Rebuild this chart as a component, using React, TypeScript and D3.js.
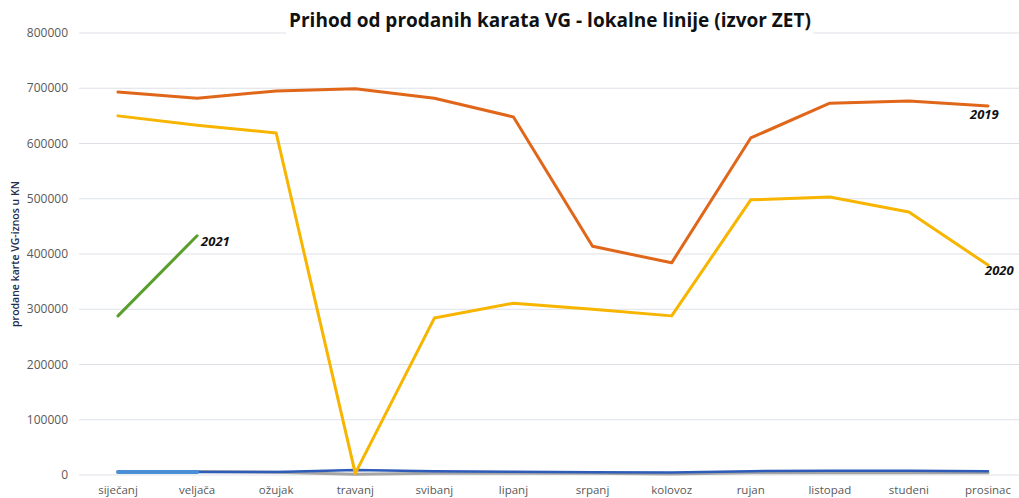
import React, { useEffect, useRef } from 'react';
import * as d3 from 'd3';

const months = ['siječanj', 'veljača', 'ožujak', 'travanj', 'svibanj', 'lipanj', 'srpanj', 'kolovoz', 'rujan', 'listopad', 'studeni', 'prosinac'];
const yTicks = [0, 100000, 200000, 300000, 400000, 500000, 600000, 700000, 800000];

const v2019 = [693000, 682000, 695000, 699000, 682000, 648000, 414000, 384000, 610000, 673000, 677000, 668000];
const v2020 = [650000, 633000, 619000, 3000, 284000, 311000, 300000, 288000, 498000, 503000, 476000, 380000];
const v2021 = [288000, 433000];
const darkBlue = [5000, 5500, 5500, 9000, 7000, 6000, 5000, 4500, 7000, 7500, 7500, 7000];
const grayLine = [6000, 6500, 5000, 1500, 3000, 3000, 3000, 2000, 4000, 4000, 4000, 4000];
const lightBlue = [5500, 5500];

const App = () => {
    const ref = useRef<SVGSVGElement>(null);

    useEffect(() => {
        const svg = d3.select(ref.current);
        svg.selectAll("*").remove();

        const x = d3.scalePoint<string>()
            .domain(months)
            .range([118, 988]);

        const y = d3.scaleLinear()
            .domain([0, 800000])
            .range([475, 33]);

        // gridlines
        svg.append("g")
            .selectAll("line")
            .data(yTicks)
            .join("line")
            .attr("x1", 79)
            .attr("x2", 1019)
            .attr("y1", d => y(d))
            .attr("y2", d => y(d))
            .attr("stroke", "#dde1e6")
            .attr("stroke-width", 1);

        // y tick labels
        svg.append("g")
            .selectAll("text")
            .data(yTicks)
            .join("text")
            .attr("x", 68)
            .attr("y", d => y(d) + 4)
            .attr("text-anchor", "end")
            .attr("font-family", "Open Sans, sans-serif")
            .attr("font-size", 12)
            .attr("fill", "#595959")
            .text(d => d);

        // x labels
        svg.append("g")
            .selectAll("text")
            .data(months)
            .join("text")
            .attr("x", d => x(d))
            .attr("y", 494)
            .attr("text-anchor", "middle")
            .attr("font-family", "Open Sans, sans-serif")
            .attr("font-size", 11.5)
            .attr("fill", "#595959")
            .text(d => d);

        // y axis title
        svg.append("text")
            .attr("transform", "translate(19,254) rotate(-90)")
            .attr("text-anchor", "middle")
            .attr("font-family", "Open Sans, sans-serif")
            .attr("font-size", 10.5)
            .attr("font-weight", 600)
            .attr("fill", "#1f2d4d")
            .text("prodane karte VG-iznos u KN");

        const line = d3.line<number>()
            .x((d, i) => x(months[i]) as number)
            .y(d => y(d));

        const series = [
            { data: grayLine, color: "#a5a5a5", width: 3 },
            { data: darkBlue, color: "#2e5cb8", width: 2.5 },
            { data: lightBlue, color: "#4a8fd6", width: 4 },
            { data: v2020, color: "#f7b500", width: 3 },
            { data: v2019, color: "#e0661a", width: 3 },
            { data: v2021, color: "#5a9e2c", width: 3 },
        ];

        svg.append("g")
            .selectAll("path")
            .data(series)
            .join("path")
            .attr("fill", "none")
            .attr("stroke", d => d.color)
            .attr("stroke-width", d => d.width)
            .attr("stroke-linejoin", "round")
            .attr("stroke-linecap", "round")
            .attr("d", d => line(d.data));

        // series labels
        const labels = [
            { text: "2021", x: x(months[1])! + 4, y: y(v2021[1]) + 10 },
            { text: "2019", x: x(months[11])! - 18, y: y(v2019[11]) + 13 },
            { text: "2020", x: x(months[11])! - 3, y: y(v2020[11]) + 10 },
        ];
        svg.append("g")
            .selectAll("text")
            .data(labels)
            .join("text")
            .attr("x", d => d.x)
            .attr("y", d => d.y)
            .attr("font-family", "Open Sans, sans-serif")
            .attr("font-size", 13)
            .attr("font-weight", "bold")
            .attr("font-style", "italic")
            .attr("fill", "#111")
            .text(d => d.text);

        // title
        svg.append("rect")
            .attr("x", 286)
            .attr("y", 22)
            .attr("width", 527)
            .attr("height", 20)
            .attr("fill", "#fff");
        svg.append("text")
            .attr("x", 550)
            .attr("y", 27)
            .attr("text-anchor", "middle")
            .attr("font-family", "Open Sans, sans-serif")
            .attr("font-size", 19)
            .attr("font-weight", "bold")
            .attr("fill", "#111")
            .text("Prihod od prodanih karata VG - lokalne linije (izvor ZET)");
    }, []);

    return (
        <svg ref={ref} width="1019" height="498" style={{ position: 'absolute', left: 0, top: 0, background: '#fff' }}></svg>
    );
};

export default App;
